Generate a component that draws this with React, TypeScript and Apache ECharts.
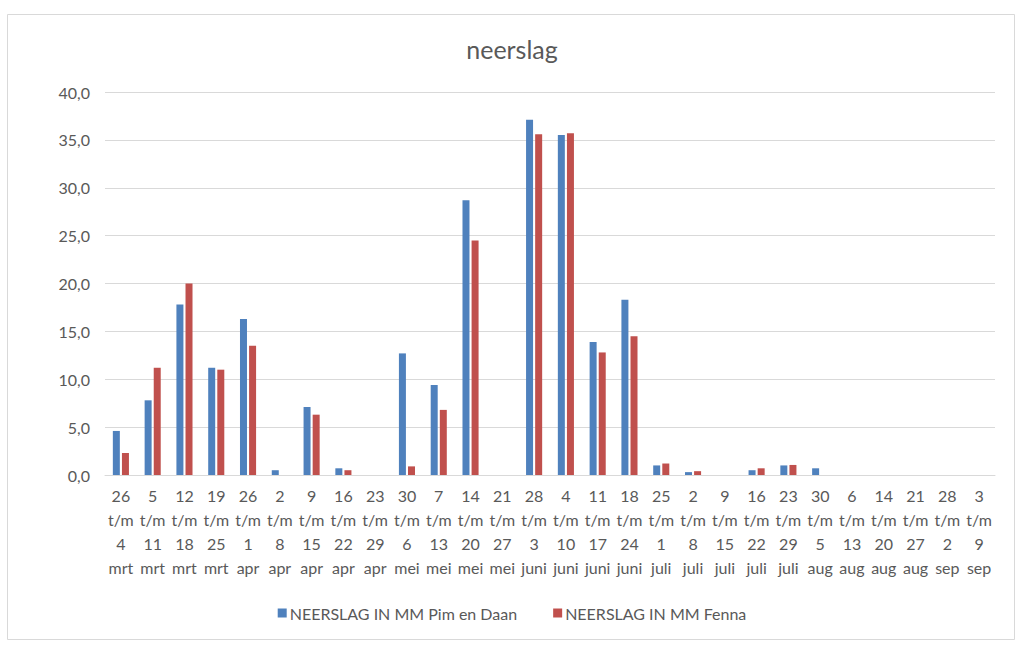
import React, { useEffect, useRef } from "react";
import * as echarts from "echarts";

const startDays = ["26","5","12","19","26","2","9","16","23","30","7","14","21","28","4","11","18","25","2","9","16","23","30","6","14","21","28","3"];
const endDays = ["4","11","18","25","1","8","15","22","29","6","13","20","27","3","10","17","24","1","8","15","22","29","5","13","20","27","2","9"];
const months = ["mrt","mrt","mrt","mrt","apr","apr","apr","apr","apr","mei","mei","mei","mei","juni","juni","juni","juni","juli","juli","juli","juli","juli","aug","aug","aug","aug","sep","sep"];
const categories = startDays.map((s, i) => `${s}\nt/m\n${endDays[i]}\n${months[i]}`);

const pimEnDaan = [4.6, 7.8, 17.8, 11.2, 16.3, 0.5, 7.1, 0.7, 0, 12.7, 9.4, 28.7, 0, 37.1, 35.5, 13.9, 18.3, 1.0, 0.3, 0, 0.5, 1.0, 0.7, 0, 0, 0, 0, 0];
const fenna = [2.3, 11.2, 20.0, 11.0, 13.5, 0, 6.3, 0.5, 0, 0.9, 6.8, 24.5, 0, 35.6, 35.7, 12.8, 14.5, 1.2, 0.4, 0, 0.7, 1.05, 0, 0, 0, 0, 0, 0];

const seriesNames = ["NEERSLAG IN MM Pim en Daan", "NEERSLAG IN MM Fenna"];
const FONT = "Lato, 'Open Sans', sans-serif";
const TEXT = "#595959";

export default function App() {
  const ref = useRef<HTMLDivElement>(null);
  useEffect(() => {
    if (!ref.current) return;
    const chart = echarts.init(ref.current, null, { renderer: "svg" });
    chart.setOption({
      animation: false,
      backgroundColor: "#ffffff",
      textStyle: { fontFamily: FONT },
      graphic: [
        {
          type: "rect",
          shape: { x: 7.5, y: 14.5, width: 1007, height: 625 },
          style: { fill: "none", stroke: "#d9d9d9", lineWidth: 1 },
          silent: true,
        },
      ],
      title: {
        text: "neerslag",
        left: "center",
        top: 31,
        textStyle: { fontFamily: FONT, fontSize: 25, fontWeight: "normal", color: TEXT },
      },
      legend: {
        top: 600,
        left: "center",
        itemWidth: 9,
        itemHeight: 9,
        itemGap: 36,
        icon: "rect",
        textStyle: { fontFamily: FONT, fontSize: 16, color: TEXT, padding: [0, 0, 0, -2] },
        data: seriesNames,
      },
      grid: { left: 105, right: 29, top: 92, bottom: 171, containLabel: false },
      xAxis: {
        type: "category",
        data: categories,
        axisLine: { lineStyle: { color: "#d9d9d9", width: 1 } },
        axisTick: { show: false },
        axisLabel: {
          interval: 0,
          fontFamily: FONT,
          fontSize: 16,
          lineHeight: 24,
          color: TEXT,
          margin: 8,
        },
      },
      yAxis: {
        type: "value",
        min: 0,
        max: 40,
        interval: 5,
        axisLine: { show: false },
        axisTick: { show: false },
        splitLine: { lineStyle: { color: "#d9d9d9", width: 1 } },
        axisLabel: {
          fontFamily: FONT,
          fontSize: 16,
          color: TEXT,
          margin: 15,
          formatter: (v: number) => v.toFixed(1).replace(".", ","),
        },
      },
      series: [
        {
          name: seriesNames[0],
          type: "bar",
          data: pimEnDaan,
          barWidth: 7,
          barGap: "30%",
          itemStyle: { color: "#4f81bd" },
        },
        {
          name: seriesNames[1],
          type: "bar",
          data: fenna,
          barWidth: 7,
          barGap: "30%",
          itemStyle: { color: "#c0504d" },
        },
      ],
    });
    return () => chart.dispose();
  }, []);
  return (
    <div
      ref={ref}
      style={{ position: "fixed", left: 0, top: 0, width: 1024, height: 646 }}
    />
  );
}
